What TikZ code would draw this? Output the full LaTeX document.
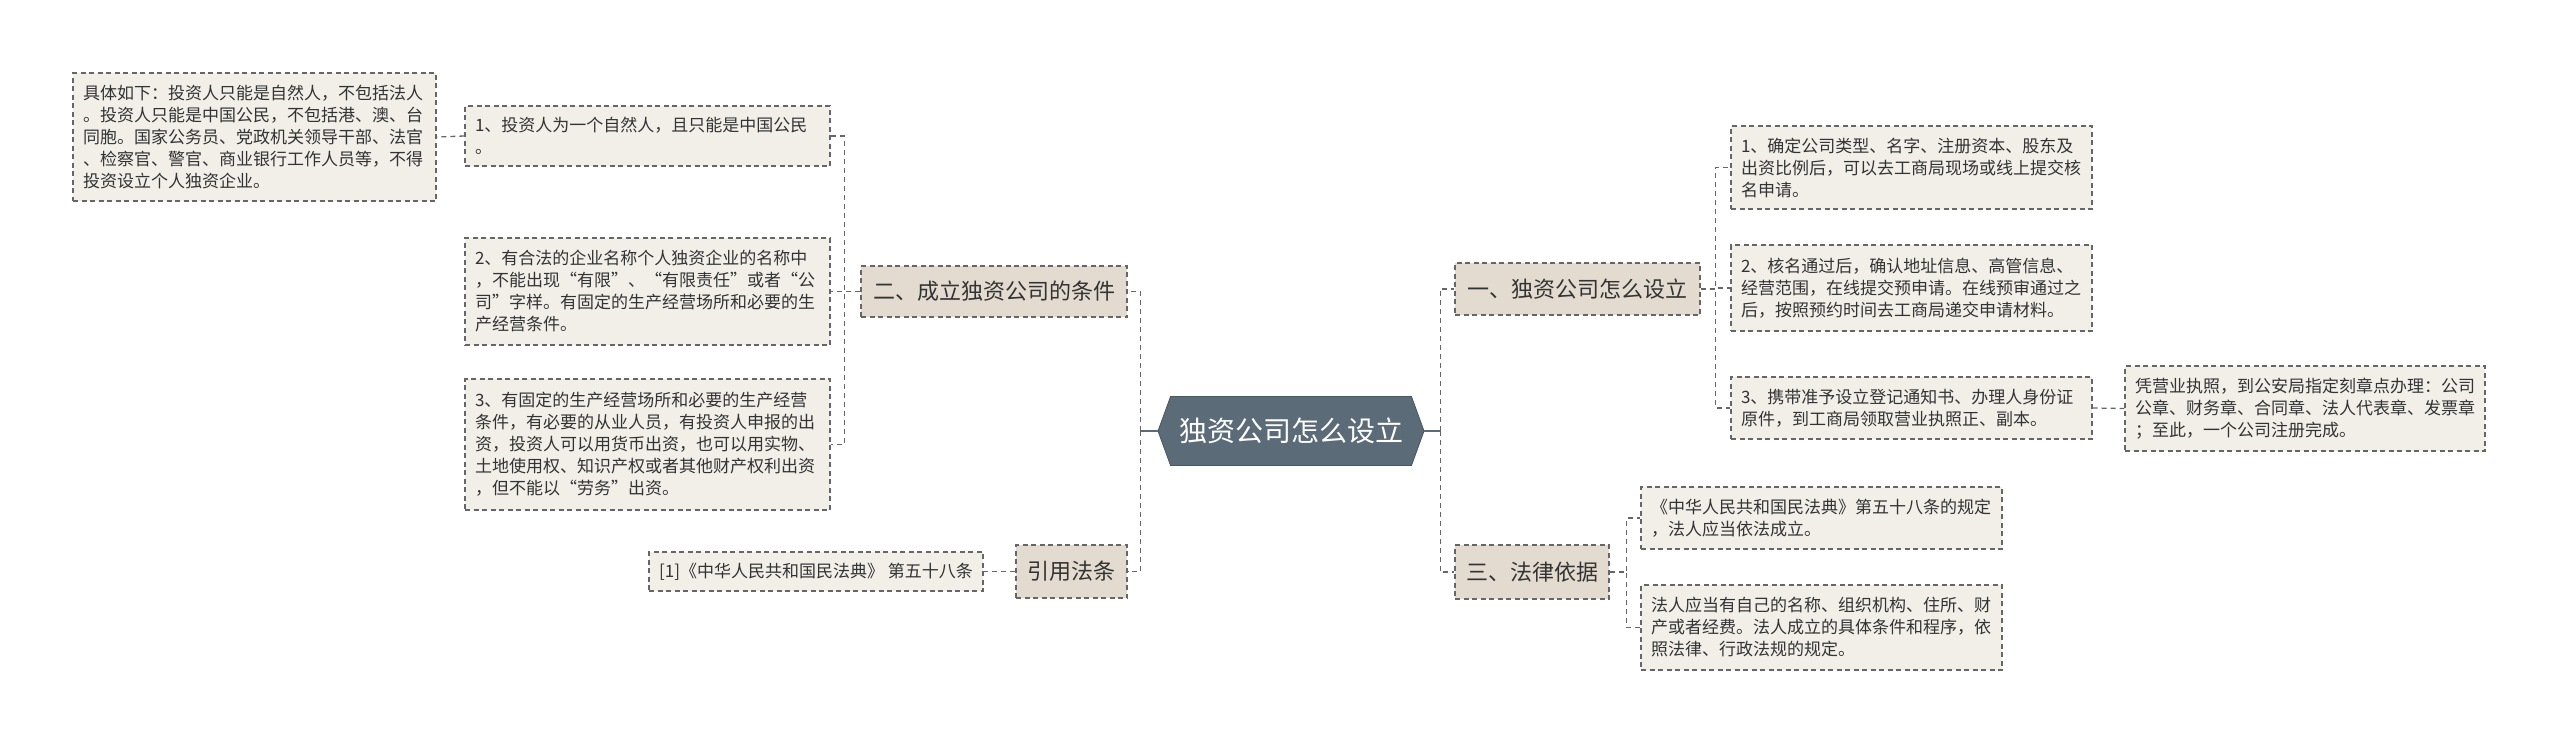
\documentclass[tikz,border=0pt]{standalone}
\usepackage{fontspec}
\setmainfont{Noto Sans CJK SC}
\usetikzlibrary{shapes.symbols}
\definecolor{leaffill}{HTML}{F2EFE9}
\definecolor{branchfill}{HTML}{E3DBCF}
\definecolor{rootfill}{HTML}{5B6B78}
\definecolor{linecol}{HTML}{666666}
\definecolor{txt}{HTML}{333333}
\begin{document}
\begin{tikzpicture}[x=1pt,y=-1pt,
  leafbox/.style={draw=linecol, line width=1.3pt, dash pattern=on 5pt off 3.5pt, fill=leaffill, text=txt,
    font=\fontsize{17}{22}\selectfont, align=left, inner xsep=10pt, inner ysep=0pt, anchor=center},
  branchbox/.style={draw=linecol, line width=1.3pt, dash pattern=on 5pt off 3.5pt, fill=branchfill, text=txt,
    font=\fontsize{22}{26}\selectfont, inner sep=0pt, anchor=center},
  rootnode/.style={signal, signal to=west and east, signal pointer angle=140, fill=rootfill, draw=rootfill!80!black,
    line width=0.8pt, text=white, font=\fontsize{28}{32}\selectfont, minimum width=266pt, minimum height=69pt, inner sep=0pt},
  conn/.style={draw=linecol, line width=1.3pt, dash pattern=on 5pt off 4pt},
  rootconn/.style={draw=rootfill, line width=2pt}
]
\useasboundingbox (0,0) rectangle (2560,744);
\fill[white] (0,0) rectangle (2560,744);

% root
\node[rootnode] (root) at (1291,431) {独资公司怎么设立};

% left side
\node[branchbox, minimum width=266pt, minimum height=51pt] (b2) at (994,291.5) {二、成立独资公司的条件};
\node[branchbox, minimum width=111pt, minimum height=53pt] (bref) at (1071.5,571.5) {引用法条};
\node[leafbox, minimum height=39pt] (refleaf) at (816,571.5) {[1]《中华人民共和国民法典》 第五十八条};
\node[leafbox, text width=345pt, minimum height=60pt] (l1) at (647.5,136) {1、投资人为一个自然人，且只能是中国公民\\。};
\node[leafbox, text width=345pt, minimum height=107pt] (l2) at (647.5,291.5) {2、有合法的企业名称个人独资企业的名称中\\，不能出现“有限”、“有限责任”或者“公\\司”字样。有固定的生产经营场所和必要的生\\产经营条件。};
\node[leafbox, text width=345pt, minimum height=131pt] (l3) at (647.5,444.5) {3、有固定的生产经营场所和必要的生产经营\\条件，有必要的从业人员，有投资人申报的出\\资，投资人可以用货币出资，也可以用实物、\\土地使用权、知识产权或者其他财产权利出资\\，但不能以“劳务”出资。};
\node[leafbox, text width=343pt, minimum height=128pt] (detail) at (254.5,137) {具体如下：投资人只能是自然人，不包括法人\\。投资人只能是中国公民，不包括港、澳、台\\同胞。国家公务员、党政机关领导干部、法官\\、检察官、警官、商业银行工作人员等，不得\\投资设立个人独资企业。};

% right side
\node[branchbox, minimum width=245pt, minimum height=52pt] (b1) at (1577.5,289) {一、独资公司怎么设立};
\node[branchbox, minimum width=154pt, minimum height=54pt] (b3) at (1532,572) {三、法律依据};
\node[leafbox, text width=341pt, minimum height=83pt] (r1) at (1911.5,167.5) {1、确定公司类型、名字、注册资本、股东及\\出资比例后，可以去工商局现场或线上提交核\\名申请。};
\node[leafbox, text width=341pt, minimum height=86pt] (r2) at (1911.5,288) {2、核名通过后，确认地址信息、高管信息、\\经营范围，在线提交预申请。在线预审通过之\\后，按照预约时间去工商局递交申请材料。};
\node[leafbox, text width=341pt, minimum height=62pt] (r3) at (1911.5,408) {3、携带准予设立登记通知书、办理人身份证\\原件，到工商局领取营业执照正、副本。};
\node[leafbox, text width=340pt, minimum height=85pt] (rd) at (2305,408.5) {凭营业执照，到公安局指定刻章点办理：公司\\公章、财务章、合同章、法人代表章、发票章\\；至此，一个公司注册完成。};
\node[leafbox, text width=341pt, minimum height=62pt] (law1) at (1821.5,518) {《中华人民共和国民法典》第五十八条的规定\\，法人应当依法成立。};
\node[leafbox, text width=341pt, minimum height=85pt] (law2) at (1821.5,627.5) {法人应当有自己的名称、组织机构、住所、财\\产或者经费。法人成立的具体条件和程序，依\\照法律、行政法规的规定。};

% connectors left
\draw[rootconn] (root.west) -- ++(-17,0) coordinate (ltrunk);
\draw[conn] (ltrunk) |- (b2.east);
\draw[conn] (ltrunk) |- (bref.east);
\draw[conn] (b2.west) -- ++(-16,0) |- (l1.east);
\draw[conn] (b2.west) -- ++(-16,0) |- (l2.east);
\draw[conn] (b2.west) -- ++(-16,0) |- (l3.east);
\draw[conn] (l1.west) -- (detail.east);
\draw[conn] (bref.west) -- (refleaf.east);

% connectors right
\draw[rootconn] (root.east) -- ++(16,0) coordinate (rtrunk);
\draw[conn] (rtrunk) |- (b1.west);
\draw[conn] (rtrunk) |- (b3.west);
\draw[conn] (b1.east) -- ++(15,0) |- (r1.west);
\draw[conn] (b1.east) -- ++(15,0) |- (r2.west);
\draw[conn] (b1.east) -- ++(15,0) |- (r3.west);
\draw[conn] (r3.east) -- (rd.west);
\draw[conn] (b3.east) -- ++(17,0) |- (law1.west);
\draw[conn] (b3.east) -- ++(17,0) |- (law2.west);
\end{tikzpicture}
\end{document}
